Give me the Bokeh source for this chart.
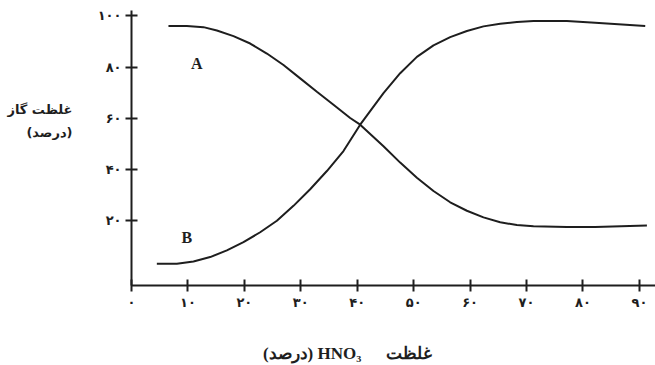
from bokeh.plotting import figure
from bokeh.models import Range1d, FixedTicker, LinearAxis, ColumnDataSource
from bokeh.core.properties import value
from bokeh.embed import file_html
from bokeh.resources import INLINE

# ---- data ----
hno3_a = [6.55, 9.81, 12.75, 15.13, 18.07, 21.03, 23.99, 26.93, 29.89, 32.85, 35.79, 38.75,
          40.52, 44.65, 47.61, 50.57, 53.51, 56.47, 59.43, 62.37, 65.33, 68.29, 71.23,
          77.15, 82.16, 91.33]
gas_a = [96.0, 96.0, 95.6, 94.3, 92.1, 89.2, 85.3, 80.8, 75.6, 70.4, 65.3, 60.1,
         57.5, 49.1, 42.7, 36.8, 31.6, 27.2, 23.9, 21.3, 19.4, 18.3, 17.8,
         17.5, 17.5, 18.1]
hno3_b = [4.49, 8.04, 10.98, 13.94, 16.90, 19.84, 22.80, 25.76, 28.70, 31.66, 34.62, 37.56,
          40.52, 44.65, 47.61, 50.57, 53.51, 56.47, 59.43, 62.37, 65.33, 68.29, 71.23,
          77.15, 82.16, 91.03]
gas_b = [3.2, 3.2, 4.1, 5.8, 8.4, 11.6, 15.5, 20.0, 25.8, 32.3, 39.4, 47.2,
         57.5, 69.8, 77.6, 84.0, 88.5, 91.7, 94.1, 95.9, 96.9, 97.6, 98.0,
         98.0, 97.3, 96.0]

curve_names = ["A", "B"]
curve_label_x = [11.58, 9.81]
curve_label_y = [81.4, 13.6]

x_ticks = [0, 10, 20, 30, 40, 50, 60, 70, 80, 90]
x_tick_labels = ["۰", "۱۰", "۲۰", "۳۰", "۴۰", "۵۰", "۶۰", "۷۰", "۸۰", "۹۰"]
y_ticks = [20, 40, 60, 80, 100]
y_tick_labels = ["۲۰", "۴۰", "۶۰", "۸۰", "۱۰۰"]

y_title_lines = ["غلظت گاز", "(درصد)"]
x_title_parts = ["(درصد) HNO₃", "غلظت"]

# where the axis titles sit (in axis units)
y_title_at = [63.4, 54.4]
x_title_at = [32.0, 49.2]

X_MIN, X_MAX = 0, 92.85
Y_MIN, Y_MAX = -5.3, 102.1

INK = "#1e1e1e"
FONT = "DejaVu Sans"

p = figure(width=655, height=365, output_backend="svg", toolbar_location=None,
           x_range=Range1d(X_MIN, X_MAX), y_range=Range1d(Y_MIN, Y_MAX),
           min_border_left=131, min_border_right=0, min_border_top=10, min_border_bottom=78)
p.outline_line_color = None
p.grid.visible = False
p.background_fill_color = "white"
p.border_fill_color = "white"

for ax in (p.xaxis[0], p.yaxis[0]):
    ax.axis_line_color = INK
    ax.axis_line_width = 2
    ax.major_tick_line_color = INK
    ax.major_tick_line_width = 2
    ax.major_tick_in = 6
    ax.major_tick_out = 6
    ax.minor_tick_line_color = None
    ax.major_label_text_font = FONT
    ax.major_label_text_font_style = "bold"
    ax.major_label_text_font_size = "13px"
    ax.major_label_text_color = INK

p.xaxis.ticker = FixedTicker(ticks=x_ticks)
p.xaxis.major_label_overrides = dict(zip(x_ticks, x_tick_labels))
p.xaxis.major_label_standoff = 3
p.yaxis.ticker = FixedTicker(ticks=y_ticks)
p.yaxis.major_label_overrides = dict(zip(y_ticks, y_tick_labels))
p.yaxis.major_label_standoff = 4


def title_axis(ticks, labels, standoff, font, size):
    ax = LinearAxis(ticker=FixedTicker(ticks=ticks),
                    major_label_overrides=dict(zip(ticks, labels)))
    ax.axis_line_color = None
    ax.major_tick_line_color = None
    ax.minor_tick_line_color = None
    ax.major_tick_in = 0
    ax.major_tick_out = 0
    ax.major_label_standoff = standoff
    ax.major_label_text_font = font
    ax.major_label_text_font_style = "bold"
    ax.major_label_text_font_size = size
    ax.major_label_text_color = INK
    return ax


p.add_layout(title_axis(y_title_at, y_title_lines, 22, FONT, "13px"), "left")
p.add_layout(title_axis(x_title_at, x_title_parts, 31, "Liberation Serif", "17px"), "below")

p.line(hno3_a, gas_a, line_color=INK, line_width=2)
p.line(hno3_b, gas_b, line_color=INK, line_width=2)

src = ColumnDataSource(dict(x=curve_label_x, y=curve_label_y, t=curve_names))
p.text(x="x", y="y", text="t", source=src, text_font=value("Liberation Serif"),
       text_font_style="bold", text_font_size="16px", text_color=INK,
       text_align="center", text_baseline="middle")

open("out.html", "w").write(file_html(p, INLINE))
